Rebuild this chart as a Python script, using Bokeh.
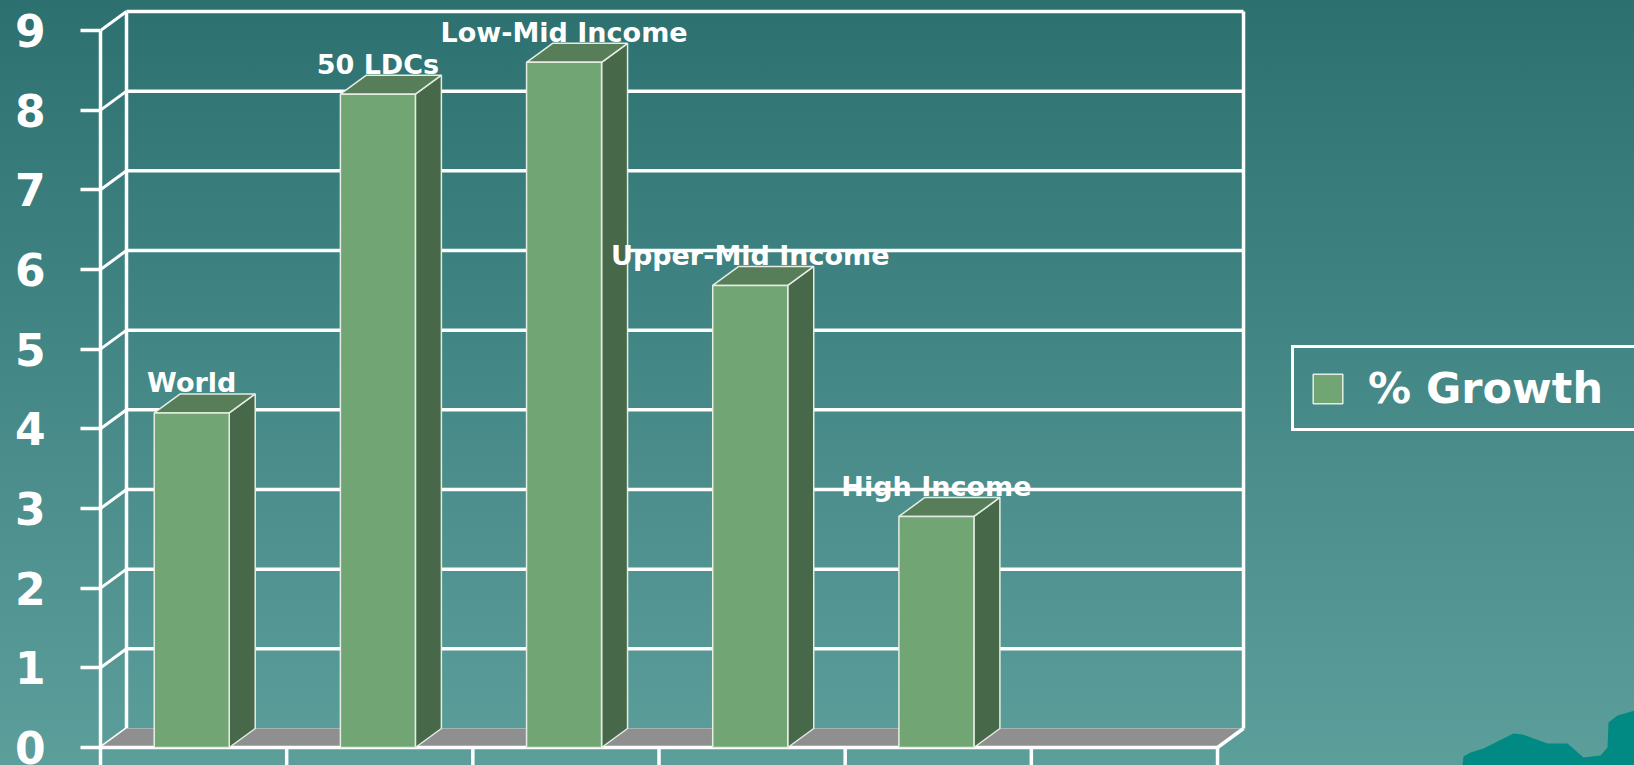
from bokeh.plotting import figure
from bokeh.models import (Range1d, LinearAxis, FixedTicker, Legend, LegendItem,
                          GlobalInlineStyleSheet)
from bokeh.core.properties import value
from bokeh.embed import file_html
from bokeh.resources import INLINE

# ---------------- data ----------------
categories = ["World", "50 LDCs", "Low-Mid Income", "Upper-Mid Income", "High Income"]
growth = [4.2, 8.2, 8.6, 5.8, 2.9]
series_name = "% Growth"
y_ticks = [0, 1, 2, 3, 4, 5, 6, 7, 8, 9]
n_slots = 6

# ---------------- geometry / style ----------------
W, H = 1634, 765
LEFT = 100
PX_X = 186.17          # pixels per category slot
PX_Y = 79.67           # pixels per value unit
DX = 26 / PX_X         # 3D depth offset (x)
DY = 19 / PX_Y         # 3D depth offset (y)
BAR_W = 75 / PX_X
Y_MAX = 9
y_start = -18 / PX_Y
y_end = y_start + H / PX_Y
x_end = (W - LEFT) / PX_X

WHITE = "#FFFFFF"
FRONT = "#72A574"
SIDE = "#48684A"
TOP = "#587E59"
FLOOR = "#8F8F8F"
EDGE = "#E4EDE4"
FONT = "DejaVu Sans"

p = figure(width=W, height=H, x_range=Range1d(0, x_end), y_range=Range1d(y_start, y_end),
           x_axis_type=None, y_axis_type=None, toolbar_location=None, output_backend="svg",
           min_border_left=LEFT, min_border_right=0, min_border_top=0, min_border_bottom=0,
           outline_line_color=None, background_fill_color=None, border_fill_color=None)

p.stylesheets = [GlobalInlineStyleSheet(css="""
html { height: 100%; background: linear-gradient(180deg, #2D7070 0%, #3F8483 40%, #4F918F 70%, #5C9E9A 100%); }
body { background: transparent; }
""")]

# back wall gridlines
back_ticks = [t for t in y_ticks if t > 0]
p.segment(x0=[DX] * len(back_ticks), x1=[n_slots + DX] * len(back_ticks),
          y0=[t + DY for t in back_ticks], y1=[t + DY for t in back_ticks],
          line_color=WHITE, line_width=3.5)
p.segment(x0=[DX], x1=[n_slots + DX], y0=[DY], y1=[DY], line_color=WHITE, line_width=1.2, line_alpha=0.6)
# back wall verticals
p.segment(x0=[DX, n_slots + DX], x1=[DX, n_slots + DX], y0=[DY, DY], y1=[Y_MAX + DY, Y_MAX + DY],
          line_color=WHITE, line_width=3.5)
# side wall diagonals
p.segment(x0=[0] * len(y_ticks), x1=[DX] * len(y_ticks), y0=y_ticks, y1=[t + DY for t in y_ticks],
          line_color=WHITE, line_width=3)

# floor
p.patch(x=[0, n_slots, n_slots + DX, DX], y=[0, 0, DY, DY], fill_color=FLOOR, line_color=None)
p.segment(x0=[0, n_slots], x1=[n_slots, n_slots + DX], y0=[0, 0], y1=[0, DY],
          line_color=WHITE, line_width=3.5)
# category separators below the floor
seps = list(range(1, n_slots + 1))
p.segment(x0=seps, x1=seps, y0=[0] * len(seps), y1=[y_start] * len(seps),
          line_color=WHITE, line_width=3.5)

# bars
centers = [i + 0.49 for i in range(len(categories))]
lefts = [c - BAR_W / 2 for c in centers]
rights = [c + BAR_W / 2 for c in centers]

p.patches(xs=[[r, r + DX, r + DX, r] for r in rights],
          ys=[[0, DY, v + DY, v] for v in growth],
          fill_color=SIDE, line_color=EDGE, line_width=1.5)
p.patches(xs=[[l, r, r + DX, l + DX] for l, r in zip(lefts, rights)],
          ys=[[v, v, v + DY, v + DY] for v in growth],
          fill_color=TOP, line_color=EDGE, line_width=1.5)
front = p.quad(left=lefts, right=rights, bottom=[0] * len(growth), top=growth,
               fill_color=FRONT, line_color=EDGE, line_width=1.5)

# category labels
p.text(x=centers, y=[v + DY + 11 / PX_Y for v in growth], text=categories,
       text_align="center", text_baseline="alphabetic", text_color=WHITE,
       text_font=value(FONT), text_font_style="bold", text_font_size="27px")

# y axis
ax = LinearAxis(ticker=FixedTicker(ticks=y_ticks), bounds=(y_start, Y_MAX))
ax.axis_line_color = WHITE
ax.axis_line_width = 3.5
ax.major_tick_line_color = WHITE
ax.major_tick_line_width = 3.5
ax.major_tick_out = 20
ax.major_tick_in = 0
ax.minor_tick_out = 0
ax.minor_tick_in = 0
ax.major_label_text_font = FONT
ax.major_label_text_font_style = "bold"
ax.major_label_text_font_size = "44px"
ax.major_label_text_color = WHITE
ax.major_label_standoff = 35
p.add_layout(ax, "left")

# decorative landscape, bottom right
deco_px = [(1462, 765), (1463, 756), (1470, 752), (1483, 748), (1497, 741), (1513, 733),
           (1522, 734), (1547, 743), (1567, 743), (1583, 757), (1600, 755), (1607, 747),
           (1608, 722), (1617, 715), (1634, 710), (1634, 770), (1462, 770)]
p.patch(x=[(px - LEFT) / PX_X for px, _ in deco_px], y=[(747 - py) / PX_Y for _, py in deco_px],
        fill_color="#008A83", line_color=None)

# legend
legend = Legend(items=[LegendItem(label=series_name, renderers=[front])],
                location=(1191, 334), orientation="vertical",
                padding=15, spacing=0, margin=0,
                glyph_width=37, glyph_height=37, label_standoff=22, label_width=252,
                label_text_font=FONT, label_text_font_style="bold", label_text_font_size="43px",
                label_text_color=WHITE, border_line_color=WHITE, border_line_width=3,
                border_line_alpha=1.0, background_fill_alpha=0)
p.add_layout(legend)

open("out.html", "w").write(file_html(p, INLINE, title="% Growth"))
